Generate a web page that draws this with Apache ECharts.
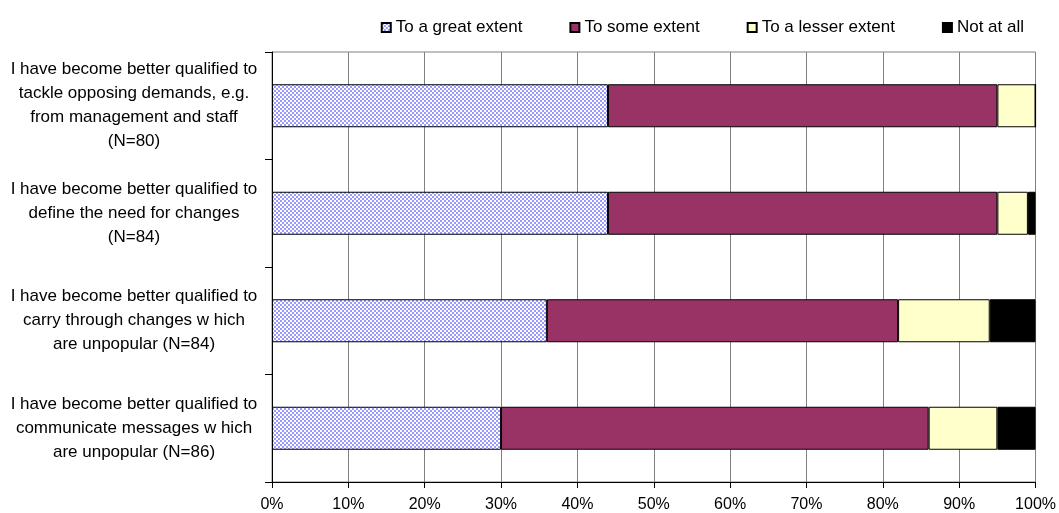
<!DOCTYPE html>
<html>
<head>
<meta charset="utf-8">
<script src="https://cdn.jsdelivr.net/npm/echarts@6/dist/echarts.min.js"></script>
<style>
  html, body { margin: 0; padding: 0; background: #fff; }
  #chart { width: 1059px; height: 513px; }
</style>
</head>
<body>
<div id="chart"></div>
<script>
// Survey statements (top to bottom)
const categories = [
  'I have become better qualified to\ntackle opposing demands, e.g.\nfrom management and staff\n(N=80)',
  'I have become better qualified to\ndefine the need for changes\n(N=84)',
  'I have become better qualified to\ncarry through changes w hich\nare unpopular (N=84)',
  'I have become better qualified to\ncommunicate messages w hich\nare unpopular (N=86)'
];

// Share of answers, percent
const greatExtent  = [44, 44, 36, 30];
const someExtent   = [51, 51, 46, 56];
const lesserExtent = [5, 4, 12, 9];
const notAtAll     = [0, 1, 6, 5];

const seriesNames = ['To a great extent', 'To some extent', 'To a lesser extent', 'Not at all'];
const xTicks = [0, 10, 20, 30, 40, 50, 60, 70, 80, 90, 100];

// Checkered blue/white fill for the first series
function checkerPattern() {
  const c = document.createElement('canvas');
  c.width = 4; c.height = 4;
  const ctx = c.getContext('2d');
  ctx.fillStyle = '#ffffff';
  ctx.fillRect(0, 0, 4, 4);
  ctx.fillStyle = '#9999ff';
  ctx.fillRect(0, 0, 2, 2);
  ctx.fillRect(2, 2, 2, 2);
  return { image: c, repeat: 'repeat' };
}

const fills = [checkerPattern(), '#993366', '#ffffcc', '#000000'];
const values = [greatExtent, someExtent, lesserExtent, notAtAll];

const chart = echarts.init(document.getElementById('chart'), null, { renderer: 'canvas' });

const font = '"Liberation Sans", Arial, sans-serif';

chart.setOption({
  animation: false,
  backgroundColor: '#ffffff',
  textStyle: { fontFamily: font, color: '#000' },
  legend: {
    top: 14,
    right: 30,
    icon: 'rect',
    itemWidth: 9,
    itemHeight: 9,
    itemGap: 47,
    textStyle: { fontSize: 17, fontFamily: font, color: '#000' },
    data: seriesNames
  },
  grid: {
    left: 272,
    right: 23,
    top: 52,
    bottom: 31,
    show: true,
    borderColor: '#808080',
    borderWidth: 1
  },
  xAxis: {
    type: 'value',
    min: 0,
    max: 100,
    interval: 10,
    axisLine: { show: true, lineStyle: { color: '#000', width: 1 } },
    axisTick: { show: true, length: 6, lineStyle: { color: '#000' } },
    splitLine: { show: true, lineStyle: { color: '#808080', width: 1 } },
    axisLabel: {
      margin: 15,
      fontSize: 16,
      fontFamily: font,
      color: '#000',
      formatter: v => (xTicks.includes(v) ? v + '%' : '')
    }
  },
  yAxis: {
    type: 'category',
    inverse: true,
    data: categories,
    axisLine: { show: true, lineStyle: { color: '#000', width: 1 } },
    axisTick: { show: true, length: 7, lineStyle: { color: '#000' } },
    splitLine: { show: false },
    axisLabel: {
      margin: 138,
      align: 'center',
      fontSize: 17,
      lineHeight: 24,
      fontFamily: font,
      color: '#000'
    }
  },
  series: seriesNames.map((name, i) => ({
    name: name,
    type: 'bar',
    stack: 'total',
    barWidth: '40%',
    data: values[i],
    itemStyle: {
      color: fills[i],
      borderColor: '#000',
      borderWidth: 1
    }
  }))
});
</script>
</body>
</html>
